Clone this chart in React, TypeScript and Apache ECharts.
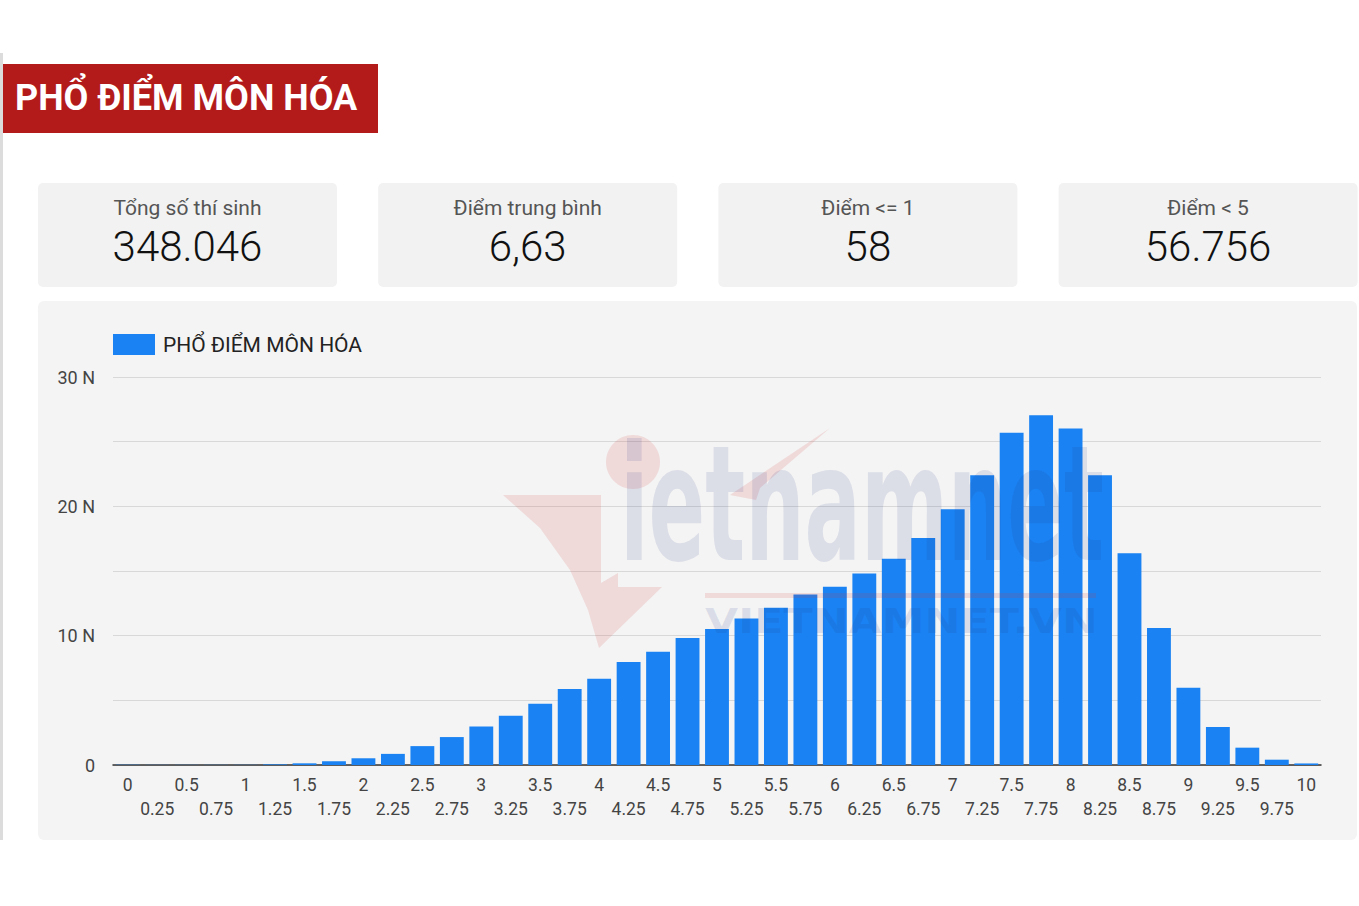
import React, { useEffect, useRef } from "react";
import * as echarts from "echarts";

const scores = [
  "0", "0.25", "0.5", "0.75", "1", "1.25", "1.5", "1.75", "2", "2.25",
  "2.5", "2.75", "3", "3.25", "3.5", "3.75", "4", "4.25", "4.5", "4.75",
  "5", "5.25", "5.5", "5.75", "6", "6.25", "6.5", "6.75", "7", "7.25",
  "7.5", "7.75", "8", "8.25", "8.5", "8.75", "9", "9.25", "9.5", "9.75", "10",
];

// number of candidates, in thousands (N)
const counts = [
  0.012, 0.01, 0.011, 0.012, 0.013, 0.05, 0.13, 0.29, 0.52, 0.86,
  1.46, 2.16, 2.97, 3.8, 4.74, 5.88, 6.67, 7.96, 8.76, 9.82,
  10.52, 11.32, 12.15, 13.18, 13.78, 14.81, 15.95, 17.56, 19.78, 22.41,
  25.68, 27.05, 26.02, 22.41, 16.38, 10.59, 5.98, 2.94, 1.34, 0.41, 0.12,
];

const titleText = "PHỔ ĐIỂM MÔN HÓA";
const seriesName = "PHỔ ĐIỂM MÔN HÓA";
const statLabels = ["Tổng số thí sinh", "Điểm trung bình", "Điểm <= 1", "Điểm < 5"];
const statValues = ["348.046", "6,63", "58", "56.756"];

const FONT = "Roboto, 'Noto Sans', sans-serif";

export default function App() {
  const ref = useRef<HTMLDivElement>(null);

  useEffect(() => {
    if (!ref.current) return;
    const chart = echarts.init(ref.current, undefined, { renderer: "svg" });

    const graphics: any[] = [];
    graphics.push({
      type: "rect",
      z: -20,
      shape: { x: 0, y: 53, width: 3, height: 787 },
      style: { fill: "#dcdcdc" },
    });
    graphics.push({
      type: "rect",
      z: -20,
      shape: { x: 3, y: 64, width: 375, height: 69 },
      style: { fill: "#b31b1b" },
    });
    graphics.push({
      type: "text",
      z: 10,
      style: {
        text: titleText,
        x: 15,
        y: 98,
        fill: "#ffffff",
        fontSize: 36,
        fontWeight: "bold",
        fontFamily: FONT,
        textAlign: "left",
        textVerticalAlign: "middle",
      },
    });
    statLabels.forEach((lab, i) => {
      const x0 = 38 + i * 340.2;
      graphics.push({
        type: "rect",
        z: -20,
        shape: { x: x0, y: 183, width: 299, height: 104, r: 5 },
        style: { fill: "#f2f2f2" },
      });
      graphics.push({
        type: "text",
        z: 10,
        style: {
          text: lab,
          x: x0 + 149.5,
          y: 208,
          fill: "#555555",
          fontSize: 21,
          fontFamily: FONT,
          textAlign: "center",
          textVerticalAlign: "middle",
        },
      });
      graphics.push({
        type: "text",
        z: 10,
        style: {
          text: statValues[i],
          x: x0 + 149.5,
          y: 246,
          fill: "#111111",
          fontSize: 42,
          fontWeight: 300,
          fontFamily: FONT,
          textAlign: "center",
          textVerticalAlign: "middle",
        },
      });
    });
    graphics.push({
      type: "rect",
      z: -20,
      shape: { x: 38, y: 301, width: 1319, height: 539, r: 6 },
      style: { fill: "#f4f4f4" },
    });

    // watermark (decorative)
    const wmRed = "rgba(215, 60, 60, 0.14)";
    const wmBlue = "rgba(40, 60, 140, 0.12)";
    graphics.push({
      type: "ellipse",
      z: 100,
      silent: true,
      shape: { cx: 633, cy: 462, rx: 27, ry: 27 },
      style: { fill: wmRed },
    });
    graphics.push({
      type: "polygon",
      z: 100,
      silent: true,
      shape: {
        points: [
          [503, 495], [601, 495], [601, 583], [618, 573], [618, 587],
          [662, 587], [599, 648], [588, 610], [570, 570], [540, 528],
        ],
      },
      style: { fill: wmRed },
    });
    graphics.push({
      type: "polygon",
      z: 100,
      silent: true,
      shape: { points: [[730, 495], [830, 428], [760, 488], [756, 500]] },
      style: { fill: wmRed },
    });
    graphics.push({
      type: "rect",
      z: 100,
      silent: true,
      shape: { x: 705, y: 593, width: 391, height: 5 },
      style: { fill: wmRed },
    });
    graphics.push({
      type: "text",
      z: 100,
      silent: true,
      x: 620,
      y: 585,
      scaleX: 0.58,
      scaleY: 1,
      style: {
        text: "ietnamnet",
        x: 0,
        y: 0,
        fill: wmBlue,
        fontSize: 160,
        fontWeight: "bold",
        fontFamily: "'DejaVu Sans Condensed', 'DejaVu Sans', sans-serif",
        textAlign: "left",
        textVerticalAlign: "bottom",
      },
    });
    graphics.push({
      type: "text",
      z: 100,
      silent: true,
      x: 705,
      y: 621,
      scaleX: 1.3,
      scaleY: 1,
      style: {
        text: "VIETNAMNET.VN",
        x: 0,
        y: 0,
        fill: wmBlue,
        fontSize: 33,
        fontWeight: "bold",
        fontFamily: "'DejaVu Sans', sans-serif",
        textAlign: "left",
        textVerticalAlign: "middle",
      },
    });

    chart.setOption({
      animation: false,
      textStyle: { fontFamily: FONT },
      graphic: { elements: graphics },
      legend: {
        data: [seriesName],
        left: 113,
        top: 334,
        padding: 0,
        icon: "rect",
        itemWidth: 42,
        itemHeight: 21,
        textStyle: { fontSize: 21, color: "#222222", fontFamily: FONT, padding: [0, 0, 0, 3] },
      },
      grid: { left: 113, right: 38, top: 377, bottom: 141, containLabel: false },
      xAxis: {
        type: "category",
        data: scores,
        axisTick: { show: false },
        axisLine: { lineStyle: { color: "#333333", width: 1.5 } },
        axisLabel: {
          interval: 0,
          fontSize: 17.5,
          color: "#444444",
          lineHeight: 24,
          margin: 8,
          fontFamily: FONT,
          formatter: (v: string, i: number) => (i % 2 === 1 ? "\n" + v : v),
        },
      },
      yAxis: {
        type: "value",
        min: 0,
        max: 30,
        interval: 5,
        axisLine: { show: false },
        axisTick: { show: false },
        splitLine: { lineStyle: { color: "#d8d8d8", width: 1.2 } },
        axisLabel: {
          fontSize: 18,
          color: "#444444",
          margin: 18,
          fontFamily: FONT,
          formatter: (v: number) => (v === 0 ? "0" : v % 10 === 0 ? v + " N" : ""),
        },
      },
      series: [
        {
          name: seriesName,
          type: "bar",
          data: counts,
          barCategoryGap: "19%",
          itemStyle: { color: "#1a82f2" },
        },
      ],
    });

    return () => chart.dispose();
  }, []);

  return (
    <div
      ref={ref}
      style={{ position: "absolute", left: 0, top: 0, width: 1359, height: 906, background: "#ffffff" }}
    />
  );
}
